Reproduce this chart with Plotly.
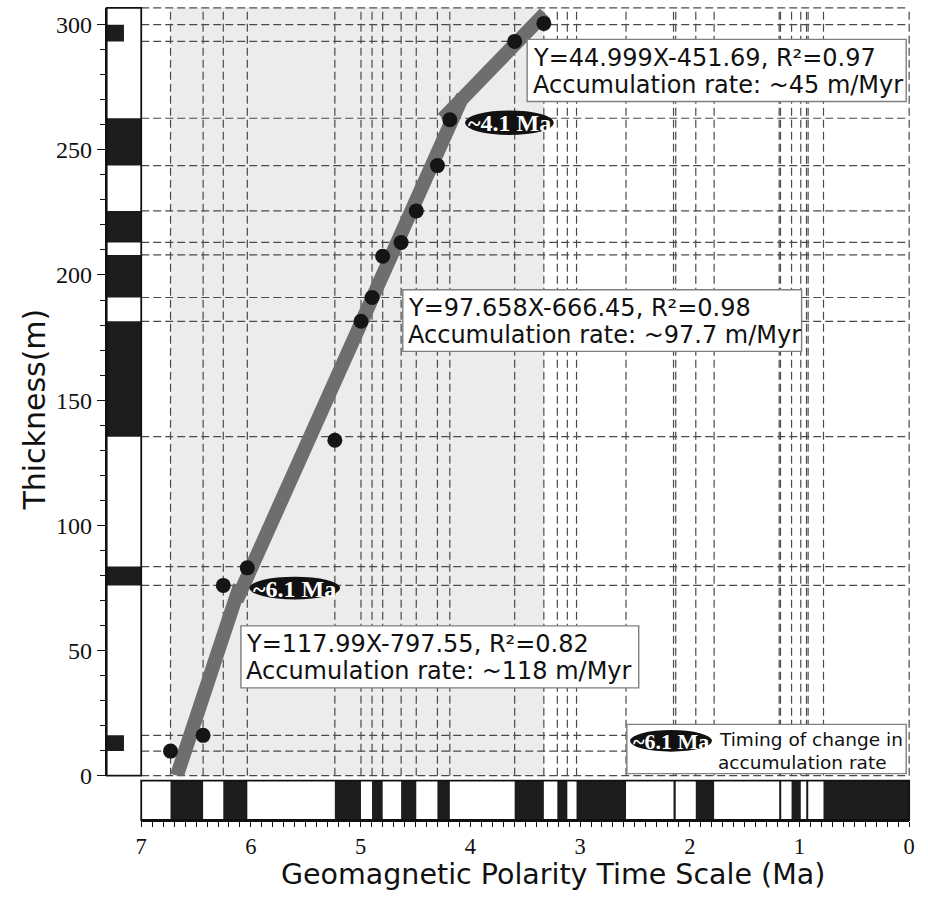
import plotly.graph_objects as go

W, H = 928, 900

# ---------------- data ----------------
# GPTS normal-polarity intervals (Ma)
gpts_young = [0.000, 0.921, 0.988, 1.173, 1.778, 2.128, 2.581, 3.116, 3.330, 4.187, 4.493, 4.799, 4.997, 6.033, 6.436]
gpts_old   = [0.781, 0.936, 1.072, 1.185, 1.945, 2.148, 3.032, 3.207, 3.596, 4.300, 4.631, 4.896, 5.235, 6.252, 6.733]

# Magnetostratigraphic column, normal zones (m)
col_bottom = [9.8, 76.0, 135.4, 191.0, 213.0, 243.7, 293.3]
col_top    = [16.1, 83.5, 181.5, 208.0, 225.6, 262.6, 300.0]
col_full   = [False, True, True, True, True, True, False]

# Tie points: age (Ma) vs thickness (m)
tie_age = [6.733, 6.436, 6.252, 6.033, 5.235, 4.997, 4.896, 4.799, 4.631, 4.493, 4.300, 4.187, 3.596, 3.330]
tie_thk = [9.8, 16.1, 76.0, 83.0, 134.0, 181.5, 191.0, 207.5, 213.0, 225.6, 243.7, 262.0, 293.3, 300.5]

# Fitted segments
fit1_age = [6.675, 6.100]; fit1_thk = [0.0, 76.0]
fit2_age = [6.130, 4.067]; fit2_thk = [70.0, 271.6]
fit3_age = [4.250, 3.320]; fit3_thk = [262.5, 304.5]

shade_age = [6.733, 3.330]

x_ticks = [0, 1, 2, 3, 4, 5, 6, 7]
y_ticks = [0, 50, 100, 150, 200, 250, 300]

reg_text = [
    ("Y=44.999X-451.69, R²=0.97", "Accumulation rate: ~45 m/Myr"),
    ("Y=97.658X-666.45, R²=0.98", "Accumulation rate: ~97.7 m/Myr"),
    ("Y=117.99X-797.55, R²=0.82", "Accumulation rate: ~118 m/Myr"),
]
change_labels = ["~6.1 Ma", "~4.1 Ma"]
legend_lines = ["Timing of change in", "accumulation rate"]

Y_MAX = 306.7

# ---------------- helpers (pixel -> paper) ----------------
def PX(x):
    return x / W

def PY(y):
    return 1 - y / H

fig = go.Figure()

# dashed polarity boundary lines
v_bounds = sorted(set([a for a in gpts_young + gpts_old if 0 < a < 7]))
vx, vy = [], []
for a in v_bounds:
    vx += [a, a, None]
    vy += [0, Y_MAX, None]
h_bounds = sorted(set(col_bottom + col_top))
hx, hy = [], []
for b in h_bounds:
    hx += [7, 0, None]
    hy += [b, b, None]

dash_style = dict(color="#4a4a4a", width=1.2, dash="8px,4px")
fig.add_trace(go.Scatter(x=vx, y=vy, mode="lines", line=dash_style, hoverinfo="skip", xaxis="x", yaxis="y"))
fig.add_trace(go.Scatter(x=hx, y=hy, mode="lines", line=dash_style, hoverinfo="skip", xaxis="x", yaxis="y"))

# regression segments
for xa, ya in [(fit1_age, fit1_thk), (fit2_age, fit2_thk), (fit3_age, fit3_thk)]:
    fig.add_trace(go.Scatter(x=xa, y=ya, mode="lines", line=dict(color="#6e6e6e", width=14),
                             hoverinfo="skip", xaxis="x", yaxis="y"))

# tie points
fig.add_trace(go.Scatter(x=tie_age, y=tie_thk, mode="markers",
                         marker=dict(size=15, color="#151515"), xaxis="x", yaxis="y"))

# column bars
fig.add_trace(go.Bar(
    x=[0.5 if f else 0.25 for f in col_full],
    y=[t - b for b, t in zip(col_bottom, col_top)],
    base=col_bottom,
    width=[1.0 if f else 0.5 for f in col_full],
    marker=dict(color="#1c1c1c", line=dict(width=0)),
    xaxis="x2", yaxis="y", hoverinfo="skip"))

# GPTS bars
fig.add_trace(go.Bar(
    orientation="h",
    y=[0.5] * len(gpts_young),
    x=[o - yv for yv, o in zip(gpts_young, gpts_old)],
    base=gpts_young,
    width=[1.0] * len(gpts_young),
    marker=dict(color="#1c1c1c", line=dict(width=0)),
    xaxis="x", yaxis="y2", hoverinfo="skip"))

shapes = []
# shading
shapes.append(dict(type="rect", xref="x", yref="y domain", x0=shade_age[0], x1=shade_age[1], y0=0, y1=1,
                   fillcolor="#ececec", line=dict(width=0), layer="below"))
# dashed frame top/right/bottom
fr = dict(color="#4a4a4a", width=1.2, dash="8px,4px")
shapes.append(dict(type="line", xref="x domain", yref="y domain", x0=0, x1=1, y0=1, y1=1, line=fr, layer="below"))
shapes.append(dict(type="line", xref="x domain", yref="y domain", x0=0, x1=1, y0=0, y1=0, line=fr, layer="below"))
shapes.append(dict(type="line", xref="x domain", yref="y domain", x0=1, x1=1, y0=0, y1=1, line=fr, layer="below"))
# outlines
shapes.append(dict(type="rect", xref="x2 domain", yref="y domain", x0=0, x1=1, y0=0, y1=1,
                   line=dict(color="#111", width=1.8), layer="above"))
shapes.append(dict(type="rect", xref="x domain", yref="y2 domain", x0=0, x1=1, y0=0, y1=1,
                   line=dict(color="#111", width=1.8), layer="above"))

annotations = []
# regression boxes
boxes = [(528, 40, 912, 103), (402, 294, 806, 356.5), (238, 635, 641, 698)]
fs = 24
for (x0, y0, x1, y1), (l1, l2) in zip(boxes, reg_text):
    shapes.append(dict(type="rect", xref="paper", yref="paper", x0=PX(x0), x1=PX(x1), y0=PY(y1), y1=PY(y0),
                       fillcolor="white", line=dict(color="#7f7f7f", width=1.4), layer="above"))
    for txt, bl in [(l1, y0 + 27), (l2, y0 + 54.5)]:
        annotations.append(dict(xref="paper", yref="paper", x=PX(x0 + 3.5), y=PY(bl - 0.346 * fs),
                                xanchor="left", yanchor="middle", text=txt, showarrow=False,
                                font=dict(family="DejaVu Sans", size=fs, color="#111")))

# legend box
shapes.append(dict(type="rect", xref="paper", yref="paper", x0=PX(629), x1=PX(912), y0=PY(785), y1=PY(735),
                   fillcolor="white", line=dict(color="#7f7f7f", width=1.4), layer="above"))
lfs = 18.5
for txt, xl, bl in [(legend_lines[0], 720.5, 756.7), (legend_lines[1], 719.5, 780)]:
    annotations.append(dict(xref="paper", yref="paper", x=PX(xl), y=PY(bl - 0.346 * lfs),
                            xanchor="left", yanchor="middle", text=txt, showarrow=False,
                            font=dict(family="DejaVu Sans", size=lfs, color="#111")))

# ellipses with labels
ells = [(292.5, 596.7, 92, 23, change_labels[0], 24),
        (510, 124.5, 90, 25, change_labels[1], 24),
        (673.7, 751.7, 83, 22, change_labels[0], 22)]
for cx, cy, ew, eh, lab, sz in ells:
    shapes.append(dict(type="circle", xref="paper", yref="paper",
                       x0=PX(cx - ew / 2), x1=PX(cx + ew / 2), y0=PY(cy + eh / 2), y1=PY(cy - eh / 2),
                       fillcolor="#111", line=dict(width=0), layer="above"))
    annotations.append(dict(xref="paper", yref="paper", x=PX(cx), y=PY(cy + 0.5), xanchor="center", yanchor="middle",
                            text="<b>%s</b>" % lab, showarrow=False,
                            font=dict(family="Liberation Serif", size=sz, color="white")))

# axis titles
annotations.append(dict(xref="paper", yref="paper", x=PX(554), y=PY(887.5), xanchor="center", yanchor="middle",
                        text="Geomagnetic Polarity Time Scale (Ma)", showarrow=False,
                        font=dict(family="DejaVu Sans", size=28.5, color="#111")))
annotations.append(dict(xref="paper", yref="paper", x=PX(29), y=PY(416), xanchor="center", yanchor="middle",
                        text="Thickness(m)", textangle=-90, showarrow=False,
                        font=dict(family="DejaVu Sans", size=30, color="#111")))

fig.update_layout(
    width=W, height=H, margin=dict(l=0, r=0, t=0, b=0),
    paper_bgcolor="white", plot_bgcolor="white", showlegend=False, barmode="overlay",
    xaxis=dict(domain=[PX(137), PX(915)], range=[7, 0], anchor="y2", showgrid=False, zeroline=False,
               showline=True, linecolor="#111", linewidth=1.8,
               ticks="outside", ticklen=5, tickwidth=1.3, tickcolor="#111",
               tickmode="array", tickvals=x_ticks, ticktext=[str(v) for v in x_ticks],
               tickfont=dict(family="Liberation Serif", size=22.5, color="#111"),
               minor=dict(ticks="outside", ticklen=5, tickwidth=1, tickcolor="#111", dtick=0.1, tick0=0,
                          showgrid=False)),
    yaxis=dict(domain=[PY(787), PY(8)], range=[0, Y_MAX], anchor="x2", side="left", showgrid=False,
               zeroline=False, showline=True, linecolor="#111", linewidth=1.8,
               ticks="outside", ticklen=8, tickwidth=1.3, tickcolor="#111",
               tickmode="array", tickvals=y_ticks, ticktext=[str(v) for v in y_ticks],
               tickfont=dict(family="Liberation Serif", size=24, color="#111"),
               minor=dict(ticks="outside", ticklen=5, tickwidth=1, tickcolor="#111", dtick=10, tick0=0,
                          showgrid=False)),
    xaxis2=dict(domain=[PX(102), PX(137)], range=[0, 1], anchor="y", visible=False, fixedrange=True),
    yaxis2=dict(domain=[PY(832), PY(792)], range=[0, 1], anchor="x", visible=False, fixedrange=True),
    shapes=shapes, annotations=annotations,
)

fig.write_html("out.html", config={"displayModeBar": False},
               post_script="document.body.style.margin='0px';document.body.style.overflow='hidden';")
